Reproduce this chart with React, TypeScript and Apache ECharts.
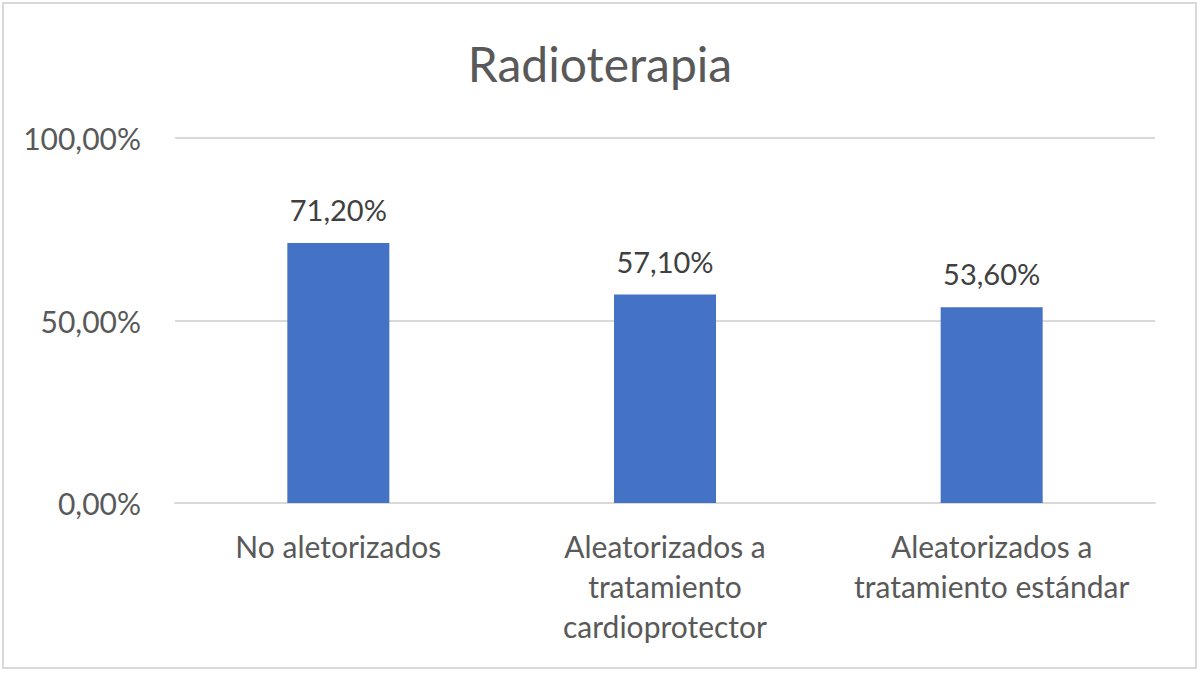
import React, { useEffect, useRef } from "react";
import * as echarts from "echarts";

const categories = [
  "No aletorizados",
  "Aleatorizados a\ntratamiento\ncardioprotector",
  "Aleatorizados a\ntratamiento estándar",
];
const values = [0.712, 0.571, 0.536];
const titleText = "Radioterapia";

const pct = (v: number) => (v * 100).toFixed(2).replace(".", ",") + "%";

const FONT = "Lato, 'Open Sans', sans-serif";

export default function App() {
  const ref = useRef<HTMLDivElement>(null);

  useEffect(() => {
    document.body.style.margin = "0";
    const chart = echarts.init(ref.current!, null, { renderer: "svg" });
    chart.setOption({
      animation: false,
      backgroundColor: "#ffffff",
      title: {
        text: titleText,
        left: "center",
        top: 34,
        textStyle: { fontFamily: FONT, fontSize: 48, fontWeight: "normal", color: "#595959" },
      },
      graphic: [
        {
          type: "rect",
          shape: { x: 3, y: 3, width: 1193, height: 665 },
          style: { fill: "none", stroke: "#d9d9d9", lineWidth: 2 },
          silent: true,
        },
      ],
      grid: { left: 175, right: 45, top: 138, bottom: 170, containLabel: false },
      xAxis: {
        type: "category",
        data: categories,
        axisLine: { show: true, lineStyle: { color: "#d9d9d9", width: 2 } },
        axisTick: { show: false },
        axisLabel: {
          interval: 0,
          margin: 23,
          fontFamily: FONT,
          fontSize: 30,
          lineHeight: 40,
          color: "#595959",
        },
      },
      yAxis: {
        type: "value",
        min: 0,
        max: 1,
        interval: 0.5,
        axisLine: { show: false },
        axisTick: { show: false },
        splitLine: { lineStyle: { color: "#d9d9d9", width: 2 } },
        axisLabel: {
          margin: 34,
          fontFamily: FONT,
          fontSize: 30,
          color: "#595959",
          formatter: (v: number) => pct(v),
        },
      },
      series: [
        {
          type: "bar",
          data: values,
          barWidth: 102,
          itemStyle: { color: "#4472C4" },
          label: {
            show: true,
            position: "top",
            distance: 19,
            fontFamily: FONT,
            fontSize: 29,
            color: "#404040",
            formatter: (p: any) => pct(p.value),
          },
        },
      ],
    });
    return () => chart.dispose();
  }, []);

  return <div ref={ref} style={{ width: 1200, height: 673 }} />;
}
